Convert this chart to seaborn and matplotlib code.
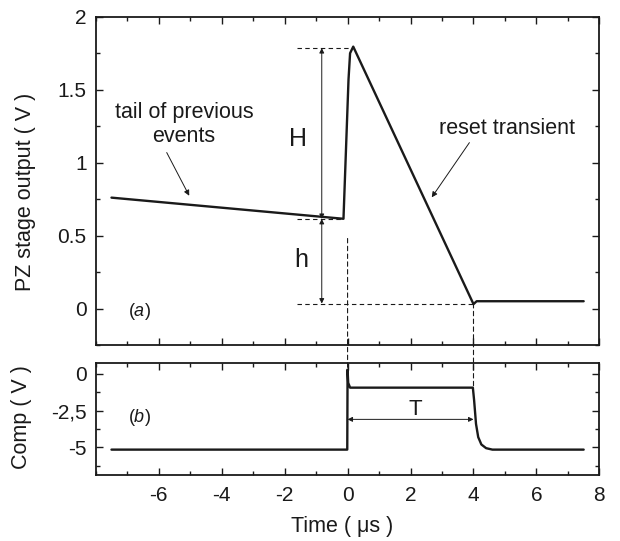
import matplotlib
matplotlib.use("Agg")
import matplotlib.pyplot as plt
from matplotlib.patches import ConnectionPatch
from matplotlib.ticker import MultipleLocator
import seaborn as sns

# PZ stage output trace (key points)
t_pz = [-7.5, -0.13, 0.03, 0.08, 0.18, 4.0, 4.1, 7.5]
v_pz = [0.76, 0.615, 1.57, 1.75, 1.795, 0.03, 0.05, 0.05]

# comparator trace
t_comp = [-7.5, -0.01, 0.0, 0.02, 0.08, 3.98, 4.02, 4.08, 4.15, 4.25, 4.4, 4.6, 7.5]
v_comp = [-5.15, -5.15, 0.3, -0.6, -0.93, -0.93, -1.8, -3.4, -4.3, -4.8, -5.05, -5.15, -5.15]

x_ticks = [-6, -4, -2, 0, 2, 4, 6, 8]
pz_ticks = [0, 0.5, 1, 1.5, 2]
pz_labels = ["0", "0.5", "1", "1.5", "2"]
comp_ticks = [0, -2.5, -5]
comp_labels = ["0", "-2,5", "-5"]

# reference levels for the H / h / T markers
h_level = 0.614
H_level = 1.785
base_level = 0.034
t_start, t_end = 0.0, 4.0

sns.set_theme(style="ticks")
plt.rcParams['font.family'] = ['Liberation Sans', 'DejaVu Sans']
plt.rcParams['text.color'] = 'k'
plt.rcParams['axes.unicode_minus'] = False
plt.rcParams['mathtext.fontset'] = 'custom'
plt.rcParams['mathtext.rm'] = 'Liberation Sans'
plt.rcParams['mathtext.it'] = 'Liberation Sans:italic'

FS = 15

fig = plt.figure(figsize=(6.2, 5.41), dpi=100)
ax1 = fig.add_axes([0.1544, 0.3623, 0.8124, 0.6068])
ax2 = fig.add_axes([0.1544, 0.1214, 0.8124, 0.2082])

sns.lineplot(x=t_pz, y=v_pz, ax=ax1, color='k', lw=1.7, estimator=None, sort=False)
sns.lineplot(x=t_comp, y=v_comp, ax=ax2, color='k', lw=1.7, estimator=None, sort=False)

for ax in (ax1, ax2):
    ax.set_xlim(-8, 8)
    ax.set_xticks(x_ticks)
    ax.xaxis.set_minor_locator(MultipleLocator(1))
    ax.tick_params(which='both', direction='in', top=True, right=True,
                   labelsize=FS, width=1.0, color='k', labelcolor='k')
    ax.tick_params(which='major', length=5)
    ax.tick_params(which='minor', length=3)
    ax.tick_params(axis='x', pad=8)
    ax.tick_params(axis='y', pad=6.5)
    for s in ax.spines.values():
        s.set_linewidth(1.3)
        s.set_color('k')

ax1.set_ylim(-0.25, 2)
ax1.set_yticks(pz_ticks)
ax1.set_yticklabels(pz_labels)
ax1.yaxis.set_minor_locator(MultipleLocator(0.25))
ax1.tick_params(labelbottom=False)
ax1.set_ylabel("PZ stage output ( V )", fontsize=FS + 0.5, color='k')
ax1.yaxis.set_label_coords(-0.14, 0.465)
ax1.yaxis.label.set_va('center')

ax2.set_ylim(-6.9, 0.77)
ax2.set_yticks(comp_ticks)
ax2.set_yticklabels(comp_labels)
ax2.yaxis.set_minor_locator(MultipleLocator(1.25))
ax2.set_ylabel("Comp ( V )", fontsize=FS + 0.5, color='k')
ax2.yaxis.set_label_coords(-0.147, 0.52)
ax2.yaxis.label.set_va('center')
ax2.set_xlabel("Time ( μs )", fontsize=FS + 0.5, color='k')
ax2.xaxis.set_label_coords(0.49, -0.456)
ax2.xaxis.label.set_va('center')

dash = dict(color='k', lw=0.8, ls=(0, (4, 3)))
ax1.plot([-1.62, 0.18], [H_level, H_level], **dash)
ax1.plot([-1.62, -0.13], [h_level, h_level], **dash)
ax1.plot([-1.62, 4.0], [base_level, base_level], **dash)

arrow = dict(arrowstyle='<|-|>', mutation_scale=7, lw=0.7, color='k',
             shrinkA=0, shrinkB=0)
ax1.annotate("", xy=(-0.82, H_level), xytext=(-0.82, h_level), arrowprops=arrow)
ax1.annotate("", xy=(-0.82, h_level), xytext=(-0.82, base_level), arrowprops=arrow)
ax1.text(-1.57, 1.16, "H", fontsize=18, ha='center', va='center')
ax1.text(-1.46, 0.33, "h", fontsize=18, ha='center', va='center')

pointer = dict(arrowstyle='-|>', mutation_scale=8, lw=0.7, color='k',
               shrinkA=0, shrinkB=0)
ax1.text(-5.195, 1.259, "tail of previous\nevents", fontsize=FS + 0.5,
         ha='center', va='center', linespacing=1.2)
ax1.annotate("", xy=(-5.03, 0.773), xytext=(-5.745, 1.069), arrowprops=pointer)
ax1.text(5.076, 1.233, "reset transient", fontsize=FS + 0.5, ha='center', va='center')
ax1.annotate("", xy=(2.674, 0.762), xytext=(3.87, 1.137), arrowprops=pointer)
ax1.text(-6.6, -0.02, "($a$)", fontsize=13, ha='center', va='center')

ax2.text(-6.6, -2.95, "($b$)", fontsize=13, ha='center', va='center')
ax2.annotate("", xy=(t_end, -3.09), xytext=(t_start, -3.09), arrowprops=arrow)
ax2.text(2.16, -2.4, "T", fontsize=16, ha='center', va='center')

# dashed markers running across both panels
for x0, ya, yb in [(t_start, 0.48, 0.0), (t_end, base_level, -0.93)]:
    con = ConnectionPatch(xyA=(x0, ya), coordsA=ax1.transData,
                          xyB=(x0, yb), coordsB=ax2.transData,
                          color='k', lw=0.8, ls=(0, (4, 3)))
    fig.add_artist(con)

fig.savefig("out.png", dpi=100)
